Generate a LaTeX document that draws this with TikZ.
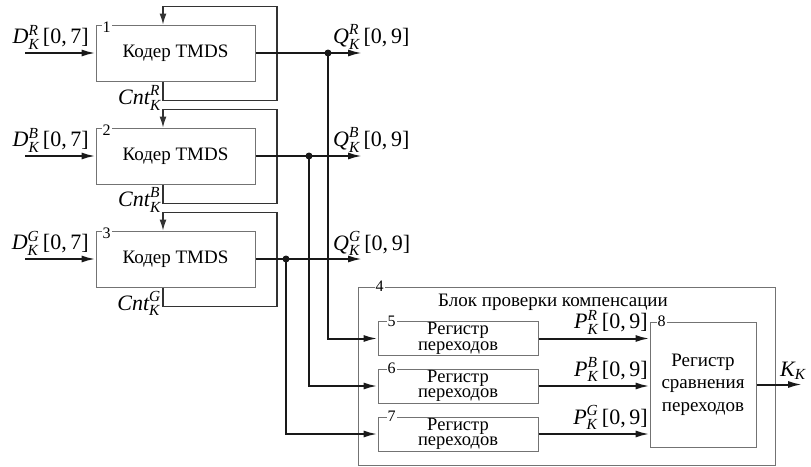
\documentclass[tikz,border=0pt]{standalone}
\usepackage{fontspec}
\setmainfont{Liberation Serif}
\usepackage{amsmath}
\usetikzlibrary{arrows.meta}

\begin{document}
\begin{tikzpicture}[
    x=1pt, y=-1pt,
    enc/.style={draw=black!55, line width=1pt, minimum width=159pt, minimum height=56pt,
        font=\fontsize{19}{22}\selectfont},
    reg/.style={draw=black!55, line width=1pt, minimum width=160pt, minimum height=34pt,
        align=center, inner sep=0pt, font=\fontsize{18.5}{15.5}\selectfont},
    cmp/.style={draw=black!55, line width=1pt, minimum width=106pt, minimum height=125pt,
        align=center, font=\fontsize{19}{22.5}\selectfont},
    blk/.style={draw=black!55, line width=1pt, minimum width=417pt, minimum height=178pt},
    tag/.style={fill=white, inner sep=1pt, font=\fontsize{16}{16}\selectfont},
    lbl/.style={inner sep=0pt, font=\fontsize{22}{24}\selectfont},
    ttl/.style={inner sep=0pt, font=\fontsize{19}{22}\selectfont},
    sig/.style={draw=black!90, line width=2pt, -{Latex[length=14pt,width=7pt]}},
    fb/.style={draw=black!80, line width=1.2pt, -{Latex[length=11pt,width=7pt]}},
    dot/.style={circle, fill=black!90, inner sep=0pt, minimum size=7pt}
    ]
    \useasboundingbox (0,0) rectangle (811,466);

    \node[enc] (e1) at (175.5,53) {Кодер TMDS};
    \node[enc] (e2) at (175.5,156) {Кодер TMDS};
    \node[enc] (e3) at (175.5,259) {Кодер TMDS};
    \node[tag] (n1) at ([xshift=11pt,yshift=-3pt]e1.north west) {1};
    \node[tag] (n2) at ([xshift=11pt,yshift=-3pt]e2.north west) {2};
    \node[tag] (n3) at ([xshift=11pt,yshift=-3pt]e3.north west) {3};

    \draw[fb] ([xshift=-12.5pt]e1.south) -- ++(0,19) -| ++(114,-94) -| ([xshift=-12.5pt]e1.north);
    \draw[fb] ([xshift=-12.5pt]e2.south) -- ++(0,19) -| ++(114,-94) -| ([xshift=-12.5pt]e2.north);
    \draw[fb] ([xshift=-12.5pt]e3.south) -- ++(0,19) -| ++(114,-94) -| ([xshift=-12.5pt]e3.north);

    \node[lbl, anchor=east] (cnt1) at (161,98) {$\textit{Cnt}^{\textit{R}}_{\textit{K}}$};
    \node[lbl, anchor=east] (cnt2) at (161,200) {$\textit{Cnt}^{\textit{B}}_{\textit{K}}$};
    \node[lbl, anchor=east] (cnt3) at (161,303) {$\textit{Cnt}^{\textit{G}}_{\textit{K}}$};

    \coordinate (din1) at (25,53);
    \coordinate (din2) at (25,156);
    \coordinate (din3) at (25,259);
    \node[lbl, anchor=east] (dl1) at (89,37) {$\textit{D}^{\textit{R}}_{\textit{K}}$\,[0,\,7]};
    \node[lbl, anchor=east] (dl2) at (89,140) {$\textit{D}^{\textit{B}}_{\textit{K}}$\,[0,\,7]};
    \node[lbl, anchor=east] (dl3) at (89,243) {$\textit{D}^{\textit{G}}_{\textit{K}}$\,[0,\,7]};
    \draw[sig] (din1) -- (e1.west);
    \draw[sig] (din2) -- (e2.west);
    \draw[sig] (din3) -- (e3.west);

    \coordinate (qout1) at (362,53);
    \coordinate (qout2) at (362,156);
    \coordinate (qout3) at (362,259);
    \node[lbl, anchor=west] (ql1) at (333,37) {$\textit{Q}^{\textit{R}}_{\textit{K}}$\,[0,\,9]};
    \node[lbl, anchor=west] (ql2) at (333,140) {$\textit{Q}^{\textit{B}}_{\textit{K}}$\,[0,\,9]};
    \node[lbl, anchor=west] (ql3) at (333,243) {$\textit{Q}^{\textit{G}}_{\textit{K}}$\,[0,\,9]};
    \draw[sig] (e1.east) -- (qout1);
    \draw[sig] (e2.east) -- (qout2);
    \draw[sig] (e3.east) -- (qout3);

    \node[blk] (b4) at (566.5,376) {};
    \node[tag] (n4) at ([xshift=22pt]b4.north west) {4};
    \node[ttl] (title) at (553,302) {Блок проверки компенсации};

    \node[reg] (r5) at (458,338.5) {Регистр\\переходов};
    \node[reg] (r6) at (458,386) {Регистр\\переходов};
    \node[reg] (r7) at (458,434) {Регистр\\переходов};
    \node[cmp] (r8) at (703,384.5) {Регистр\\сравнения\\переходов};
    \node[tag] (n5) at ([xshift=14pt]r5.north west) {5};
    \node[tag] (n6) at ([xshift=14pt]r6.north west) {6};
    \node[tag] (n7) at ([xshift=14pt]r7.north west) {7};
    \node[tag] (n8) at ([xshift=12pt]r8.north west) {8};

    \coordinate (j1) at (328,53);
    \coordinate (j2) at (309,156);
    \coordinate (j3) at (286,259);
    \draw[sig] (j1) |- (r5.west);
    \draw[sig] (j2) |- (r6.west);
    \draw[sig] (j3) |- (r7.west);
    \node[dot] at (j1) {};
    \node[dot] at (j2) {};
    \node[dot] at (j3) {};

    \node[lbl, anchor=east] (pl5) at (648,322) {$\textit{P}^{\textit{R}}_{\textit{K}}$\,[0,\,9]};
    \node[lbl, anchor=east] (pl6) at (648,369.5) {$\textit{P}^{\textit{B}}_{\textit{K}}$\,[0,\,9]};
    \node[lbl, anchor=east] (pl7) at (648,417.5) {$\textit{P}^{\textit{G}}_{\textit{K}}$\,[0,\,9]};
    \draw[sig] (r5.east) -- (r5.east -| r8.west);
    \draw[sig] (r6.east) -- (r6.east -| r8.west);
    \draw[sig] (r7.east) -- (r7.east -| r8.west);

    \coordinate (kout) at (802,384.5);
    \node[lbl, anchor=west] (kl) at (780,371) {$\textit{K}_{\textit{K}}$};
    \draw[sig] (r8.east) -- (kout);
\end{tikzpicture}
\end{document}
